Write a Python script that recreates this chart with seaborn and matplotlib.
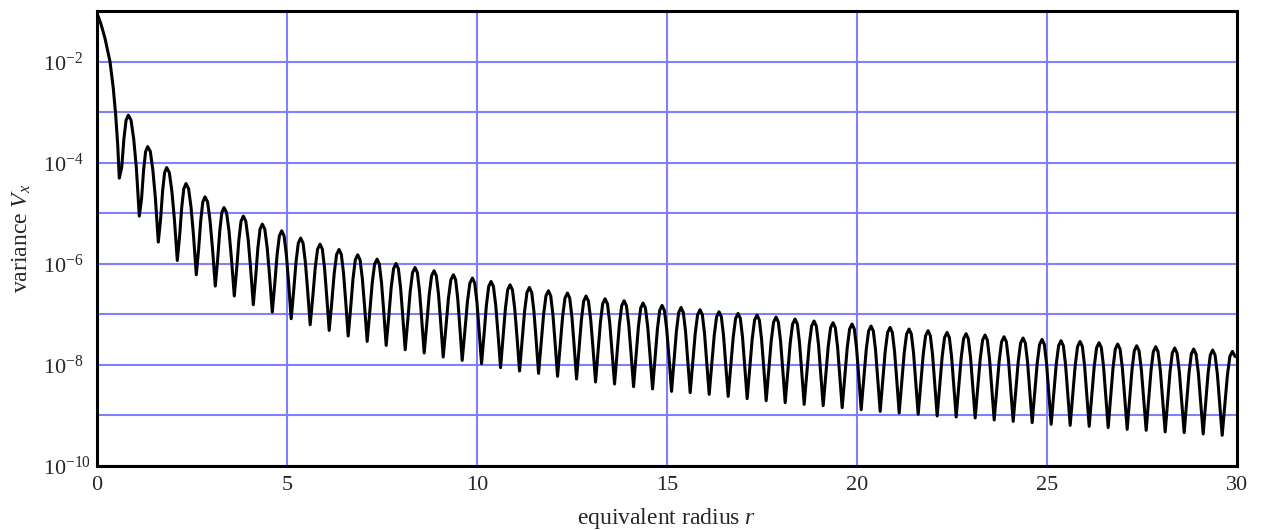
import numpy as np
import pandas as pd
import matplotlib
matplotlib.use('Agg')
import matplotlib.pyplot as plt
import seaborn as sns

# values (exponents of the variance, i.e. log10 V)
start_r = [0.0, 0.105, 0.21, 0.342, 0.429, 0.492, 0.545]
start_logv = [-1.04, -1.26, -1.54, -2.00, -2.53, -3.06, -3.65]

trough_r = [0.587, 1.113, 1.613, 2.113, 2.613, 3.113, 3.613, 4.113, 4.613,
            5.11, 5.61, 6.11, 6.61, 7.11, 7.61, 8.11, 8.61, 9.11, 9.61, 10.12,
            10.62, 11.12, 11.62, 12.12, 12.62, 13.12, 13.62, 14.12, 14.62, 15.12,
            15.61, 16.11, 16.61, 17.11, 17.61, 18.11, 18.61, 19.11, 19.61, 20.11,
            20.61, 21.11, 21.61, 22.11, 22.61, 23.11, 23.61, 24.11, 24.61, 25.11,
            25.61, 26.11, 26.61, 27.11, 27.61, 28.11, 28.61, 29.11, 29.61]
trough_logv = [-4.306, -5.057, -5.571, -5.935, -6.217, -6.441, -6.638, -6.810, -6.955,
               -7.087, -7.206, -7.318, -7.429, -7.535, -7.615, -7.700, -7.765, -7.844, -7.911, -7.976,
               -8.055, -8.121, -8.168, -8.227, -8.279, -8.338, -8.378, -8.431, -8.476, -8.524,
               -8.549, -8.583, -8.623, -8.668, -8.708, -8.747, -8.781, -8.806, -8.846, -8.885,
               -8.919, -8.951, -8.978, -9.010, -9.030, -9.049, -9.089, -9.117, -9.142, -9.176,
               -9.196, -9.215, -9.241, -9.275, -9.294, -9.326, -9.340, -9.366, -9.393]

peak_r = [0.824, 1.334, 1.834, 2.342, 2.842, 3.342, 3.850, 4.350, 4.861,
          5.36, 5.87, 6.37, 6.86, 7.37, 7.87, 8.37, 8.87, 9.38, 9.88,
          10.37, 10.87, 11.38, 11.88, 12.38, 12.87, 13.37, 13.87, 14.37, 14.87,
          15.37, 15.87, 16.37, 16.87, 17.37, 17.87, 18.37, 18.87, 19.37, 19.87, 20.37,
          20.87, 21.37, 21.87, 22.37, 22.87, 23.37, 23.87, 24.37, 24.87, 25.37,
          25.87, 26.37, 26.86, 27.36, 27.86, 28.36, 28.86, 29.36, 29.88]
peak_logv = [-3.061, -3.682, -4.097, -4.413, -4.676, -4.887, -5.057, -5.215, -5.348,
             -5.492, -5.611, -5.717, -5.822, -5.908, -5.994, -6.073, -6.138, -6.217, -6.283,
             -6.350, -6.415, -6.468, -6.534, -6.579, -6.638, -6.692, -6.731, -6.777, -6.824,
             -6.864, -6.909, -6.949, -6.982, -7.014, -7.053, -7.093, -7.132, -7.166, -7.192, -7.232,
             -7.259, -7.291, -7.324, -7.358, -7.383, -7.409, -7.443, -7.468, -7.496, -7.522,
             -7.536, -7.561, -7.587, -7.621, -7.640, -7.666, -7.686, -7.706, -7.733]

# arch shape of one lobe, read off zoomed lobes: how far from the peak
# (share of the way to the trough) and how many decades below the peak
lobe_frac = [0.25, 0.49, 0.73]
lobe_drop = [0.10, 0.47, 1.03]

end_r = [30.0]
end_logv = [-7.84]

y_exponents = list(range(-10, 0))
x_ticks = [0, 5, 10, 15, 20, 25, 30]

rows = list(zip(start_r, start_logv)) + list(zip(trough_r, trough_logv))
for i, (pr, pv) in enumerate(zip(peak_r, peak_logv)):
    left = trough_r[i]
    right = trough_r[i + 1] if i + 1 < len(trough_r) else pr + (pr - left)
    rows.append((pr, pv))
    for f, d in zip(lobe_frac, lobe_drop):
        rows.append((pr - f * (pr - left), pv - d))
        rows.append((pr + f * (right - pr), pv - d))
rows += list(zip(end_r, end_logv))

df = pd.DataFrame(rows, columns=['r', 'logv'])
df = df[df['r'] <= 30].sort_values('r')
df['V'] = 10.0 ** df['logv']

sns.set_style('white')
plt.rcParams['font.family'] = ['Liberation Serif', 'DejaVu Serif']
plt.rcParams['mathtext.fontset'] = 'custom'
plt.rcParams['mathtext.rm'] = 'Liberation Serif'
plt.rcParams['mathtext.it'] = 'Liberation Serif:italic'

fig = plt.figure(figsize=(12.62, 5.30), dpi=100)
ax = fig.add_axes([97 / 1262, 64 / 530, 1140 / 1262, 455 / 530])

sns.lineplot(data=df, x='r', y='V', sort=False, estimator=None,
             color='black', lw=2.2, ax=ax)

ax.set_yscale('log')
ax.set_xlim(0, 30)
ax.set_ylim(1e-10, 1e-1)
ax.set_xticks(x_ticks)
ax.set_xticklabels([str(t) for t in x_ticks])
ax.set_yticks([10.0 ** e for e in y_exponents])
ax.set_yticklabels([r'$\mathregular{10^{%d}}$' % e if e % 2 == 0 else ''
                    for e in y_exponents])
ax.yaxis.set_minor_locator(matplotlib.ticker.NullLocator())

ax.grid(True, color='#8080ff', lw=1.5)
ax.set_axisbelow(True)
ax.tick_params(length=0, labelsize=16)
ax.tick_params(axis='x', pad=7)
ax.tick_params(axis='y', pad=39)
plt.setp(ax.get_yticklabels(), ha='left')

for s in ax.spines.values():
    s.set_color('black')
    s.set_linewidth(2.2)

ax.set_xlabel('equivalent radius $r$', fontsize=17)
ax.xaxis.set_label_coords(0.5, -(506 - 466) / 455)
ax.set_ylabel('variance $V_x$', fontsize=17)
ax.yaxis.set_label_coords(-(97 - 33) / 1140, 0.5)

fig.savefig('out.png', dpi=100)
